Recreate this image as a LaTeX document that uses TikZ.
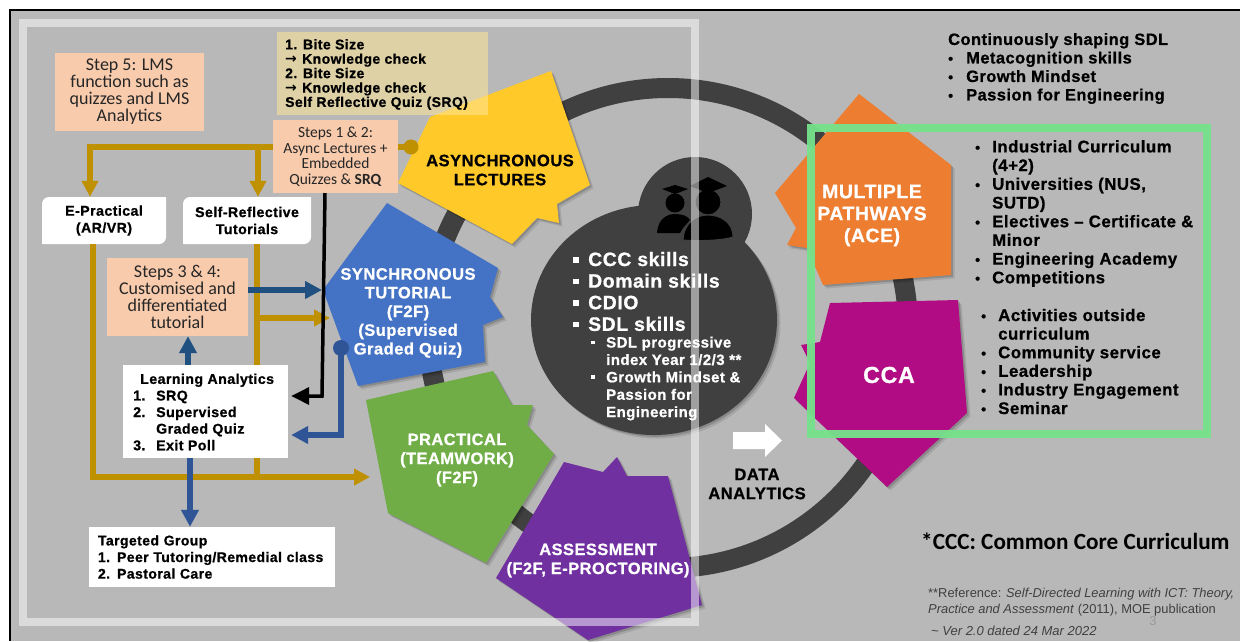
\documentclass[tikz,border=0pt]{standalone}
\usepackage{fontspec}
\setmainfont{Liberation Sans}
\newfontfamily\calfont{Carlito}
\newfontfamily\hvy{Liberation Sans}[LetterSpace=3,BoldFeatures={FakeBold=0.8}]
\usetikzlibrary{arrows.meta,shadows,calc}
\definecolor{bggray}{HTML}{B8B8B8}
\definecolor{darkring}{HTML}{404040}
\definecolor{peach}{HTML}{F8CBAD}
\definecolor{tanbox}{HTML}{FFE699}
\definecolor{gold}{HTML}{BF9000}
\definecolor{navy}{HTML}{1F5080}
\definecolor{midblue}{HTML}{2F5597}
\definecolor{ayellow}{HTML}{FFC92A}
\definecolor{sblue}{HTML}{4472C4}
\definecolor{pgreen}{HTML}{70AD47}
\definecolor{apurple}{HTML}{7030A0}
\definecolor{morange}{HTML}{ED7D31}
\definecolor{cmag}{HTML}{B10C83}
\definecolor{framegreen}{HTML}{75E38A}
\newcommand{\fs}[2]{\fontsize{#1}{#2}\selectfont}
\newcommand{\bul}[1]{\makebox[#1][l]{\fontsize{14pt}{14pt}\selectfont\textbullet}}
\newcommand{\sq}[1]{\makebox[#1][l]{\rule[3.5pt]{5.5pt}{5.5pt}}}
\newcommand{\sqs}[1]{\makebox[#1][l]{\rule[3.5pt]{3.5pt}{3.5pt}}}
\newcommand{\thinarrow}{\makebox[17pt][l]{\fontspec{DejaVu Sans}\fontsize{14}{14.4}\selectfont→}}
\tikzset{
  x=1pt,y=-1pt,
  poly/.style={general shadow={shadow xshift=3.5pt,shadow yshift=-3.5pt,opacity=.1,fill=black},general shadow={shadow xshift=1.8pt,shadow yshift=-1.8pt,opacity=.16,fill=black}},
  peachbox/.style={fill=peach,inner sep=0pt,align=center,text=black!85,font=\calfont},
  whitebox/.style={fill=white,inner sep=0pt,align=left,font=\hvy\bfseries},
  plabel/.style={inner sep=0pt,align=center,text=white,font=\hvy\bfseries},
  blabel/.style={plabel,text=black},
  listtext/.style={inner sep=0pt,align=left,anchor=west,font=\hvy\bfseries},
  goldline/.style={draw=gold,line width=5.5pt},
  goldarrow/.style={goldline,-{Triangle[width=16pt,length=16pt]}},
  navyarrow/.style={draw=navy,line width=5.5pt,-{Triangle[width=17pt,length=17pt]}},
  bluearrow/.style={draw=midblue,line width=5.5pt,-{Triangle[width=17pt,length=17pt]}},
  blackarrow/.style={draw=black,line width=3.5pt,-{Triangle[width=17pt,length=18pt]}},
}
\begin{document}
\begin{tikzpicture}
\useasboundingbox (0,0) rectangle (1242,641);
\fill[white] (0,0) rectangle (1242,641);
\fill[bggray] (10,10) rectangle (1240,641);
\draw[black,line width=2pt] (10,641) -- (10,10) -- (1240,10);
% ring
\draw[darkring,line width=20pt] (668,328) circle[radius=240];
% centre circles
\fill[darkring] (695,214) circle[radius=57];
\fill[darkring,poly] (654,320) ellipse[x radius=123,y radius=115];
% graduates
\fill[black] (675,203) circle[radius=9.5];
\fill[black] (662,189) -- (675,185) -- (688,189) -- (675,194) -- cycle;
\fill[black] (657,233) .. controls (658,218) and (668,214) .. (675,214) .. controls (682,214) and (688,216) .. (690,220) -- (683,228) -- (680,233) -- cycle;
\fill[black,draw=darkring,line width=1pt] (708,202) circle[radius=13];
\fill[black] (690,186) -- (708,177) -- (727,186) -- (708,193) -- cycle;
\fill[black,draw=darkring,line width=1pt] (683,240) .. controls (684,222) and (697,215) .. (708,215) .. controls (720,215) and (733,222) .. (733,237) .. controls (720,241) and (695,241) .. (683,240) -- cycle;
% polygons
\fill[ayellow,poly] (551,71) -- (590,185) -- (557,204) -- (559,223) -- (537,218) -- (512,244) -- (398,183) -- (430,117) -- cycle;
\fill[sblue,poly] (387,203) -- (498,268) -- (490,297) -- (503,317) -- (483,325) -- (485,362) -- (358,386) -- (323,290) -- cycle;
\fill[pgreen,poly] (366,400) -- (493,371) -- (512,405) -- (533,405) -- (527,425) -- (554,454) -- (486,563) -- (388,513) -- cycle;
\fill[apurple,poly] (564,462) -- (603,472) -- (617,457) -- (627,476) -- (668,476) -- (702,605) -- (588,640) -- (496,578) -- cycle;
\fill[morange,poly] (859,94) -- (951,165) -- (951,275) -- (823,285) -- (807,248) -- (787,245) -- (796,228) -- (775,193) -- cycle;
\fill[cmag,poly] (830,303) -- (958,300) -- (967,413) -- (887,487) -- (794,398) -- (810,363) -- (801,345) -- (820,342) -- cycle;
% polygon labels
\node[blabel,font=\hvy\bfseries\fs{16.5}{19}] (lblasync) at (500,170) {ASYNCHRONOUS\\LECTURES};
\node[plabel,font=\hvy\bfseries\fs{16.5}{18.7}] (lblsync) at (408,313) {SYNCHRONOUS\\TUTORIAL\\(F2F)\\(Supervised\\Graded Quiz)};
\node[plabel,font=\hvy\bfseries\fs{16.4}{19}] (lblprac) at (457,460) {PRACTICAL\\(TEAMWORK)\\(F2F)};
\node[plabel,font=\hvy\bfseries\fs{16.4}{19}] (lblass) at (598,560.5) {ASSESSMENT\\(F2F, E-PROCTORING)};
\node[plabel,font=\hvy\bfseries\fs{19.4}{22}] (lblmulti) at (872,215.5) {MULTIPLE\\PATHWAYS\\(ACE)};
\node[plabel,font=\hvy\bfseries\fs{23.2}{26}] (lblcca) at (889,375) {CCA};
% tan box
\fill[tanbox,fill opacity=.55] (277,32) rectangle (488,115);
\node[listtext,font=\hvy\bfseries\fs{14}{14.4}] (bite) at (285,74.5) {1. Bite Size\\\thinarrow Knowledge check\\2. Bite Size\\\thinarrow Knowledge check\\Self Reflective Quiz (SRQ)};
% boxes
\node[peachbox,minimum width=149pt,minimum height=78pt,font=\calfont\fs{18}{17}] (step5) at (129.5,92) {Step 5: LMS\\function such as\\quizzes and LMS\\Analytics};
\node[peachbox,minimum width=125pt,minimum height=73pt,font=\calfont\fs{15.5}{15.5}] (step12) at (335.5,156.5) {Steps 1 \& 2:\\Async Lectures +\\Embedded\\Quizzes \& \textbf{SRQ}};
\node[peachbox,minimum width=141pt,minimum height=78pt,font=\calfont\fs{18}{17}] (step34) at (177.5,297) {Steps 3 \& 4:\\Customised and\\differentiated\\tutorial};
\fill[white] [sharp corners] (42,244) [rounded corners=7pt] -- (42,197) [sharp corners] -- (166,197) [rounded corners=7pt] -- (166,244) [sharp corners] -- cycle;
\fill[white] [sharp corners] (183,244) [rounded corners=7pt] -- (183,197) [sharp corners] -- (311,197) [rounded corners=7pt] -- (311,244) [sharp corners] -- cycle;
\node[whitebox,fill=none,align=center,minimum width=124pt,minimum height=47pt,font=\hvy\bfseries\fs{14.2}{17}] (eprac) at (104,220.5) {E-Practical\\(AR/VR)};
\node[whitebox,fill=none,align=center,minimum width=128pt,minimum height=47pt,font=\hvy\bfseries\fs{14.2}{17}] (selfref) at (247,220.5) {Self-Reflective\\Tutorials};
% connectors
\coordinate (goldleft) at (90,147);
\coordinate (goldmid) at (258,147);
\coordinate (goldright) at (411,147);
\coordinate (goldbottom) at (93,477);
\coordinate (pracin) at (370,477);
\coordinate (syncin) at (330,318);
\coordinate (selfdown) at (257,318);
\coordinate (syncblue) at (322,290);
\coordinate (blackdrop) at (322,396);
\coordinate (bluedot) at (341,348);
\draw[goldarrow] (goldleft -| step12.west) -- (goldleft) -- (goldleft |- eprac.north);
\draw[goldarrow] (goldmid) -- (goldmid |- selfref.north);
\draw[goldline] (goldright -| step12.east) -- (goldright);
\fill[gold] (goldright) circle[radius=7.5];
\draw[goldarrow] (goldbottom |- eprac.south) -- (goldbottom) -- (pracin);
\draw[goldline] (selfdown |- selfref.south) -- (selfdown |- pracin);
\draw[goldarrow] (selfdown) -- (syncin);
\draw[navyarrow] (step34.east |- syncblue) -- (syncblue);
\node[whitebox,minimum width=165pt,minimum height=93pt] (la) at (205.5,411.5) {};
\node[listtext,font=\hvy\bfseries\fs{14.2}{16.6}] (latext) at (133,412) {\hspace*{7pt}Learning Analytics\\\makebox[23pt][l]{1.}SRQ\\\makebox[23pt][l]{2.}Supervised\\\hspace*{23pt}Graded Quiz\\\makebox[23pt][l]{3.}Exit Poll};
\node[whitebox,inner xsep=9pt,text width=228pt,minimum height=60pt,font=\hvy\bfseries\fs{14}{16.6}] (target) at (212,557) {Targeted Group\\1. Peer Tutoring/Remedial class\\2. Pastoral Care};
\draw[navyarrow] (la.north -| 188,0) -- (step34.south -| 188,0);
\draw[bluearrow] (la.south -| 190,0) -- (target.north -| 190,0);
\draw[blackarrow,shorten >=3pt] (325,193) -- (blackdrop) -- (la.east |- blackdrop);
\draw[bluearrow,shorten >=3pt] (bluedot) -- (bluedot |- 0,435) -- (la.east |- 0,435);
\fill[midblue] (bluedot) circle[radius=8];
% centre list
\node[listtext,text=white,font=\hvy\bfseries\fs{19.4}{21.6}] (skills) at (573,291.5) {\sq{15pt}CCC skills\\\sq{15pt}Domain skills\\\sq{15pt}CDIO\\\sq{15pt}SDL skills};
\node[listtext,text=white,font=\hvy\bfseries\fs{15}{17.4}] (sub) at (591,378.5) {\sqs{15pt}SDL progressive\\\hspace*{15pt}index Year 1/2/3 **\\\sqs{15pt}Growth Mindset \&\\\hspace*{15pt}Passion for\\\hspace*{15pt}Engineering};
% data analytics
\fill[white] (733,432) -- (765,432) -- (765,424) -- (782,440.5) -- (765,457) -- (765,449) -- (733,449) -- cycle;
\node[blabel,font=\hvy\bfseries\fs{16.6}{19}] (data) at (757,484) {DATA\\ANALYTICS};
% right lists
\node[listtext,font=\hvy\bfseries\fs{16.4}{18.5}] (cont) at (948,68.5) {Continuously shaping SDL\\\bul{18pt}Metacognition skills\\\bul{18pt}Growth Mindset\\\bul{18pt}Passion for Engineering};
\node[listtext,font=\hvy\bfseries\fs{16.8}{18.7}] (ind) at (975,213.5) {\bul{17pt}Industrial Curriculum\\\hspace*{17pt}(4+2)\\\bul{17pt}Universities (NUS,\\\hspace*{17pt}SUTD)\\\bul{17pt}Electives – Certificate \&\\\hspace*{17pt}Minor\\\bul{17pt}Engineering Academy\\\bul{17pt}Competitions};
\node[listtext,font=\hvy\bfseries\fs{16.8}{18.6}] (act) at (981,361.5) {\bul{17pt}Activities outside\\\hspace*{17pt}curriculum\\\bul{17pt}Community service\\\bul{17pt}Leadership\\\bul{17pt}Industry Engagement\\\bul{17pt}Seminar};
\node[listtext,font=\calfont\bfseries\fs{23.2}{24}] (ccc) at (921,541) {*CCC: Common Core Curriculum};
\node[listtext,text=black!75,font=\fs{12.9}{15.5}] (refn) at (928,602) {**Reference: \textit{Self-Directed Learning with ICT: Theory,}\\\textit{Practice and Assessment} (2011), MOE publication};
\node[listtext,text=black!75,font=\itshape\fs{13}{15}] (ver) at (931,631) {\textasciitilde{} Ver 2.0 dated 24 Mar 2022};
\node[inner sep=0pt,text=black!40,font=\fs{13}{15}] (pageno) at (1153,621) {3};
% frames
\draw[white,draw opacity=.5,line width=8pt] (23,23) rectangle (695,622);
\draw[framegreen,draw opacity=.95,line width=7.5pt] (811,128) rectangle (1207,434);
\end{tikzpicture}
\end{document}
